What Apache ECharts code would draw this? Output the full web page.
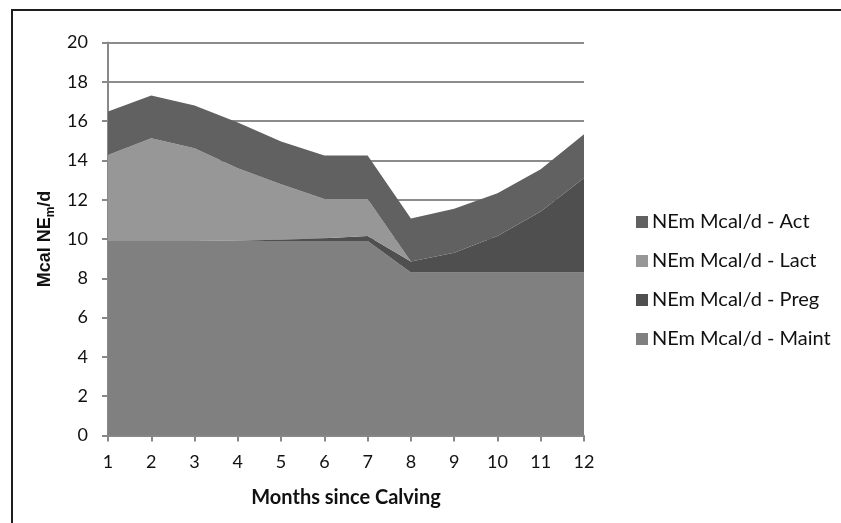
<!DOCTYPE html>
<html><head><meta charset="utf-8">
<script src="https://cdn.jsdelivr.net/npm/echarts@6/dist/echarts.min.js"></script>
<style>html,body{margin:0;padding:0;background:#fff}#c{width:841px;height:523px}</style>
</head><body><div id="c"></div>
<script>
var months = ['1','2','3','4','5','6','7','8','9','10','11','12'];
var maint = [9.9, 9.9, 9.9, 9.9, 9.9, 9.9, 9.9, 8.3, 8.3, 8.3, 8.3, 8.3];
var preg  = [0, 0, 0, 0.02, 0.06, 0.14, 0.25, 0.55, 1.0, 1.85, 3.1, 4.8];
var lact  = [4.38, 5.23, 4.72, 3.68, 2.83, 2.0, 1.89, 0, 0, 0, 0, 0];
var act   = [2.21, 2.17, 2.18, 2.33, 2.17, 2.21, 2.21, 2.19, 2.24, 2.18, 2.15, 2.23];
var yTicks = [0, 20, 2];
var names = ['NEm Mcal/d - Maint','NEm Mcal/d - Preg','NEm Mcal/d - Lact','NEm Mcal/d - Act'];
var colors = ['#808080','#4f4f4f','#979797','#616161'];
var FONT = 'Lato, sans-serif';

function mk(i, data){
  return {name:names[i], type:'line', stack:'total', data:data, symbol:'none', showSymbol:false,
    lineStyle:{width:0}, areaStyle:{color:colors[i], opacity:1}, itemStyle:{color:colors[i]},
    emphasis:{disabled:true}};
}
var chart = echarts.init(document.getElementById('c'), null, {renderer:'canvas'});
chart.setOption({
  animation:false,
  backgroundColor:'#fff',
  grid:{left:108, right:257, top:42.5, bottom:87.5},
  legend:{orient:'vertical', left:631, top:207, icon:'rect', itemWidth:12, itemHeight:12, itemGap:19, itemStyle:{borderWidth:0},
    data:[names[3],names[2],names[1],names[0]],
    textStyle:{fontFamily:FONT, fontSize:20, color:'#111', lineHeight:20, padding:[0,0,0,-1]}},
  xAxis:{type:'category', data:months, boundaryGap:false,
    axisLine:{lineStyle:{color:'#888', width:2}},
    axisTick:{show:true, inside:false, length:6, interval:0, lineStyle:{color:'#888', width:2}},
    axisLabel:{fontFamily:FONT, fontSize:18, color:'#111', margin:18, interval:0},
    name:'Months since Calving', nameLocation:'middle', nameGap:52,
    nameTextStyle:{fontFamily:FONT, fontSize:20, fontWeight:'bold', color:'#111'}},
  yAxis:{type:'value', min:yTicks[0], max:yTicks[1], interval:yTicks[2],
    axisLine:{show:true, lineStyle:{color:'#888', width:2}},
    axisTick:{show:true, length:6, lineStyle:{color:'#888', width:2}},
    splitLine:{show:true, lineStyle:{color:'#8c8c8c', width:2}},
    axisLabel:{fontFamily:FONT, fontSize:18, color:'#111', margin:20},
    name:'{a|Mcal NE}{s|m}{a|/d}', nameLocation:'middle', nameGap:50, nameRotate:90,
    nameTextStyle:{rich:{
      a:{fontFamily:'"Liberation Sans", Arial, sans-serif', fontSize:18, fontWeight:'bold', color:'#111', lineHeight:22, verticalAlign:'middle'},
      s:{fontFamily:'"Liberation Sans", Arial, sans-serif', fontSize:12, fontWeight:'bold', color:'#111', lineHeight:12, verticalAlign:'bottom'}
    }}},
  series:[mk(0,maint), mk(1,preg), mk(2,lact), mk(3,act)],
  graphic:[
    {type:'line', shape:{x1:12, y1:9, x2:12, y2:523}, style:{stroke:'#1e1e1e', lineWidth:2}},
    {type:'line', shape:{x1:11, y1:10, x2:841, y2:10}, style:{stroke:'#1e1e1e', lineWidth:2}}
  ]
});
</script></body></html>
